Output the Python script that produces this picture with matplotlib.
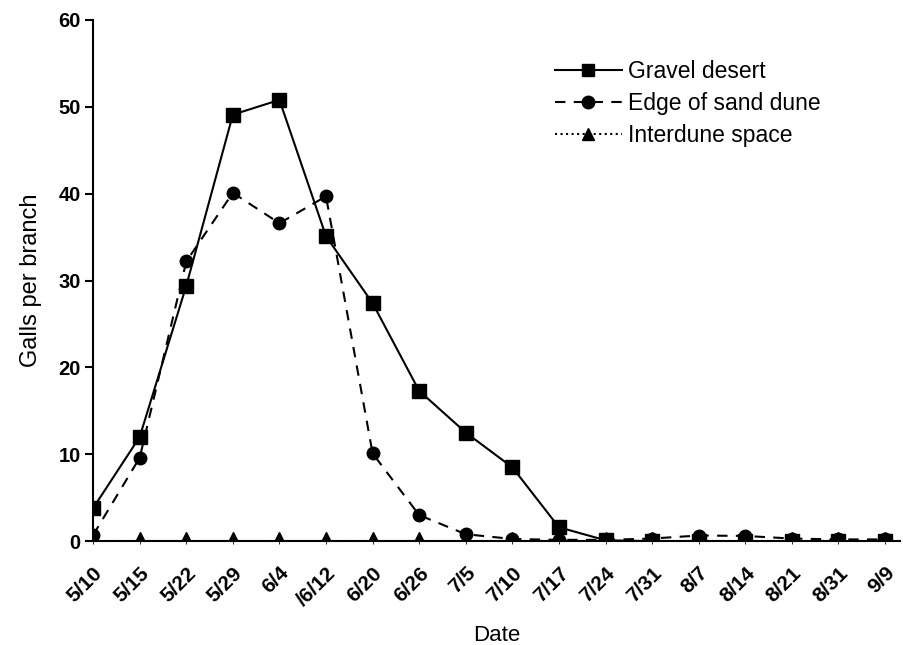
import matplotlib
matplotlib.use("Agg")

import numpy as np
import matplotlib.pyplot as plt

plt.rcParams["font.family"] = ["Liberation Sans", "DejaVu Sans"]

dates = ["5/10", "5/15", "5/22", "5/29", "6/4", "/6/12", "6/20", "6/26", "7/5",
         "7/10", "7/17", "7/24", "7/31", "8/7", "8/14", "8/21", "8/31", "9/9"]

gravel = [3.8, 12.0, 29.4, 49.1, 50.8, 35.1, 27.4, 17.3, 12.5,
          8.5, 1.6, 0.1, 0, 0, 0, 0, 0, 0]
edge = [0.7, 9.6, 32.2, 40.1, 36.6, 39.7, 10.1, 3.0, 0.8,
        0.25, 0.15, 0.15, 0.3, 0.65, 0.6, 0.3, 0.2, 0.2]
interdune = [0] * len(dates)

x = np.arange(len(dates))

fig = plt.figure(figsize=(9.04, 6.45), dpi=100)
ax = fig.add_axes([0.103, 0.161, 0.893, 0.808])

ax.plot(x, gravel, "-", color="black", lw=1.5, marker="s", ms=9.5,
        label="Gravel desert")
ax.plot(x, edge, "--", color="black", lw=1.5, marker="o", ms=9,
        dashes=(5, 4), label="Edge of sand dune")
ax.plot(x, interdune, ":", color="black", lw=1.5, marker="^", ms=13,
        label="Interdune space")

ax.set_xlim(0, 17.33)
ax.set_ylim(0, 60)
ax.set_yticks(np.arange(0, 61, 10))
ax.set_xticks(x)
ax.set_xticklabels(dates, rotation=45, ha="right", rotation_mode="anchor",
                   fontweight="bold", fontsize=15)
for lab in ax.get_yticklabels():
    lab.set_fontweight("bold")
    lab.set_fontsize(14.5)

ax.spines["top"].set_visible(False)
ax.spines["right"].set_visible(False)
ax.spines["left"].set_linewidth(1.5)
ax.spines["bottom"].set_linewidth(1.5)
ax.tick_params(axis="y", direction="out", length=6, width=1.5, pad=3)
ax.tick_params(axis="x", direction="out", length=2, width=0.6, pad=14)

ax.set_xlabel("Date", fontsize=16, labelpad=11)
ax.set_ylabel("Galls per branch", fontsize=17, labelpad=12)

# legend with the handle line ~65 px long, placed in figure coords
leg = ax.legend(loc="upper left", bbox_to_anchor=(0.614, 0.907),
                bbox_transform=fig.transFigure, frameon=False,
                fontsize=16.5, handlelength=2.9, handletextpad=0.3,
                labelspacing=0.4, borderaxespad=0, borderpad=0)
for h in leg.get_lines():
    h.set_markersize(9)

fig.savefig("out.png", dpi=100)
